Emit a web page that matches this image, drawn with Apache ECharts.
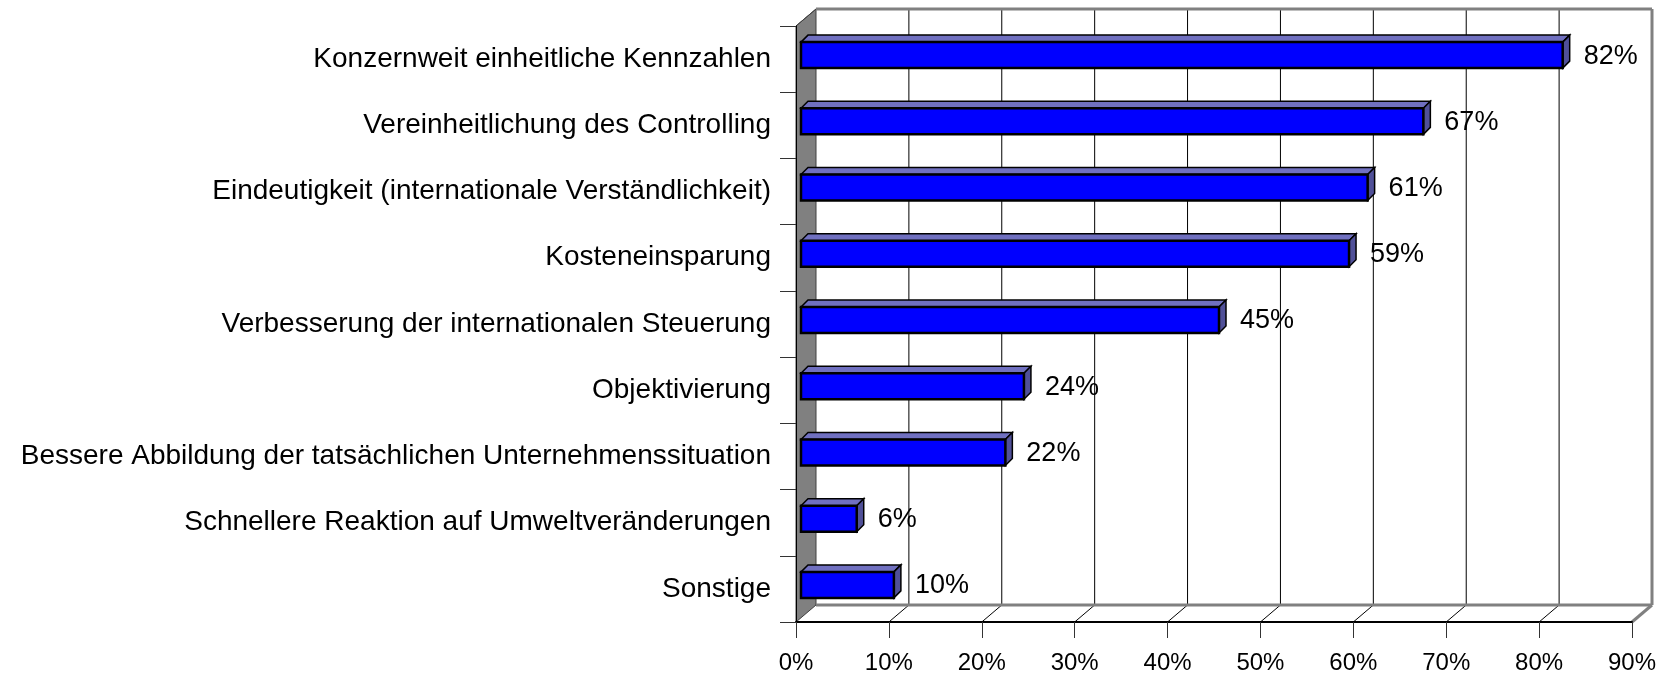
<!DOCTYPE html>
<html lang="de">
<head>
  <meta charset="UTF-8">
  <script src="https://cdn.jsdelivr.net/npm/echarts@6/dist/echarts.min.js"></script>
  <style>
    html, body { margin: 0; padding: 0; background: #fff; }
    #container { width: 1669px; height: 676px; }
  </style>
</head>
<body>
  <div id="container"></div>
  <script>
    var categories = [
      'Konzernweit einheitliche Kennzahlen',
      'Vereinheitlichung des Controlling',
      'Eindeutigkeit (internationale Verständlichkeit)',
      'Kosteneinsparung',
      'Verbesserung der internationalen Steuerung',
      'Objektivierung',
      'Bessere Abbildung der tatsächlichen Unternehmenssituation',
      'Schnellere Reaktion auf Umweltveränderungen',
      'Sonstige'
    ];
    var values = [82, 67, 61, 59, 45, 24, 22, 6, 10];
    var xTicks = [0, 10, 20, 30, 40, 50, 60, 70, 80, 90];

    var FONT = "'Liberation Sans', Arial, sans-serif";
    // 3D-Tiefe der Wand und der Balken
    var DX = 20, DY = -17;
    var BDX = 7, BDY = -7;

    var myChart = echarts.init(document.getElementById('container'));

    // Rückwand, Seitenwand, Boden
    function renderWalls(params, api) {
      var cs = params.coordSys;
      var left = cs.x, top = cs.y, right = cs.x + cs.width, bottom = cs.y + cs.height;
      var children = [];
      children.push({
        type: 'polygon',
        shape: { points: [[left, top], [left + DX, top + DY], [left + DX, bottom + DY], [left, bottom]] },
        style: { fill: '#808080', stroke: '#404040', lineWidth: 1 }
      });
      for (var k = 1; k < xTicks.length - 1; k++) {
        var x = api.coord([xTicks[k], 0])[0];
        children.push({
          type: 'line',
          shape: { x1: x + DX, y1: top + DY, x2: x + DX, y2: bottom + DY },
          style: { stroke: '#000', lineWidth: 1 }
        });
        children.push({
          type: 'line',
          shape: { x1: x, y1: bottom, x2: x + DX, y2: bottom + DY },
          style: { stroke: '#000', lineWidth: 1 }
        });
      }
      var gray = { stroke: '#808080', lineWidth: 3 };
      children.push({ type: 'line', shape: { x1: left + DX, y1: top + DY, x2: right + DX, y2: top + DY }, style: gray });
      children.push({ type: 'line', shape: { x1: right + DX, y1: top + DY, x2: right + DX, y2: bottom + DY }, style: gray });
      children.push({ type: 'line', shape: { x1: left + DX, y1: bottom + DY, x2: right + DX, y2: bottom + DY }, style: gray });
      children.push({ type: 'line', shape: { x1: right, y1: bottom, x2: right + DX, y2: bottom + DY }, style: gray });
      children.push({ type: 'line', shape: { x1: left, y1: top, x2: left + DX, y2: top + DY }, style: { stroke: '#404040', lineWidth: 1 } });
      return { type: 'group', children: children };
    }

    // 3D-Balken
    function renderBar(params, api) {
      var v = api.value(0), i = api.value(1);
      var p0 = api.coord([0, i]), p1 = api.coord([v, i]);
      var x0 = p0[0] + 5, x1 = p1[0] + 5;
      var yc = p0[1] - 4, h = 26;
      var t = yc - h / 2, b = yc + h / 2;
      return {
        type: 'group',
        children: [
          {
            type: 'polygon',
            shape: { points: [[x0, t], [x0 + BDX, t + BDY], [x1 + BDX, t + BDY], [x1, t]] },
            style: { fill: '#7070c0', stroke: '#000', lineWidth: 1.5 }
          },
          {
            type: 'polygon',
            shape: { points: [[x1, t], [x1 + BDX, t + BDY], [x1 + BDX, b + BDY], [x1, b]] },
            style: { fill: '#505098', stroke: '#000', lineWidth: 1.5 }
          },
          {
            type: 'rect',
            shape: { x: x0, y: t, width: x1 - x0, height: h },
            style: { fill: '#0000ff', stroke: '#000', lineWidth: 2.5 }
          },
          {
            type: 'text',
            x: x1 + BDX + 14,
            y: yc + 1,
            style: { text: v + '%', font: '27px ' + FONT, fill: '#000', verticalAlign: 'middle', align: 'left' }
          }
        ]
      };
    }

    var option = {
      backgroundColor: '#fff',
      animation: false,
      grid: {
        left: 796, top: 26, right: 37, bottom: 54,
        containLabel: false,
        outerBoundsMode: 'none'
      },
      xAxis: {
        type: 'value',
        min: 0, max: 90, interval: 10,
        z: 5,
        axisLine: { show: true, lineStyle: { color: '#000', width: 2 } },
        axisTick: { show: true, length: 16, lineStyle: { color: '#333', width: 1 } },
        splitLine: { show: false },
        axisLabel: {
          formatter: '{value}%',
          margin: 29,
          fontSize: 24, fontFamily: FONT, color: '#000'
        }
      },
      yAxis: {
        type: 'category',
        data: categories,
        inverse: true,
        z: 5,
        axisLine: { show: true, lineStyle: { color: '#000', width: 1 } },
        axisTick: { show: true, length: 16, lineStyle: { color: '#333', width: 1 } },
        splitLine: { show: false },
        axisLabel: {
          margin: 25,
          fontSize: 28, fontFamily: FONT, color: '#000'
        }
      },
      series: [
        {
          type: 'custom',
          z: 1,
          silent: true,
          renderItem: renderWalls,
          data: [[0, 0]],
          encode: { x: 0, y: 1 }
        },
        {
          type: 'custom',
          z: 3,
          renderItem: renderBar,
          data: values.map(function (v, i) { return [v, i]; }),
          encode: { x: 0, y: 1 }
        }
      ]
    };

    myChart.setOption(option);
  </script>
</body>
</html>
